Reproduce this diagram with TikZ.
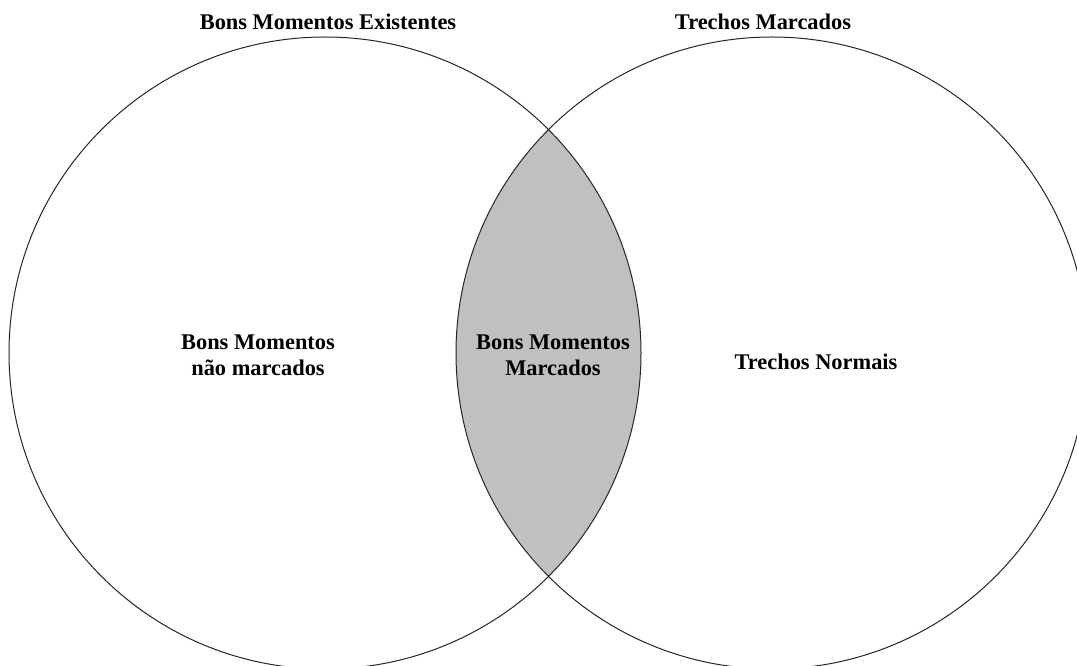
\documentclass[tikz,border=0pt]{standalone}
\usepackage{fontspec}
\setmainfont{Liberation Serif}
\definecolor{lensgray}{RGB}{192,192,192}

\begin{document}
\begin{tikzpicture}[x=0.5pt,y=0.5pt,
  set/.style={circle,draw=black!85,line width=0.5pt,minimum size=316pt,inner sep=0pt},
  lbl/.style={font=\fontsize{11.2}{13}\selectfont\bfseries,align=center,inner sep=0pt}]
\useasboundingbox (0,0) rectangle (1077,665);
\clip (0,0) rectangle (1077,665);
\coordinate (cE) at (325,312);
\coordinate (cM) at (772,312);
\begin{scope}
\clip (cE) circle[radius=316];
\fill[lensgray] (cM) circle[radius=316];
\end{scope}
\node[set] (E) at (cE) {};
\node[set] (M) at (cM) {};
\node[lbl] (Etitle) at (328,643) {Bons Momentos Existentes};
\node[lbl] (Mtitle) at (763,643) {Trechos Marcados};
\node[lbl] (naomarc) at (258,310) {Bons Momentos\\não marcados};
\node[lbl] (marc) at (553,310) {Bons Momentos\\Marcados};
\node[lbl] (normais) at (816,303) {Trechos Normais};
\end{tikzpicture}
\end{document}
